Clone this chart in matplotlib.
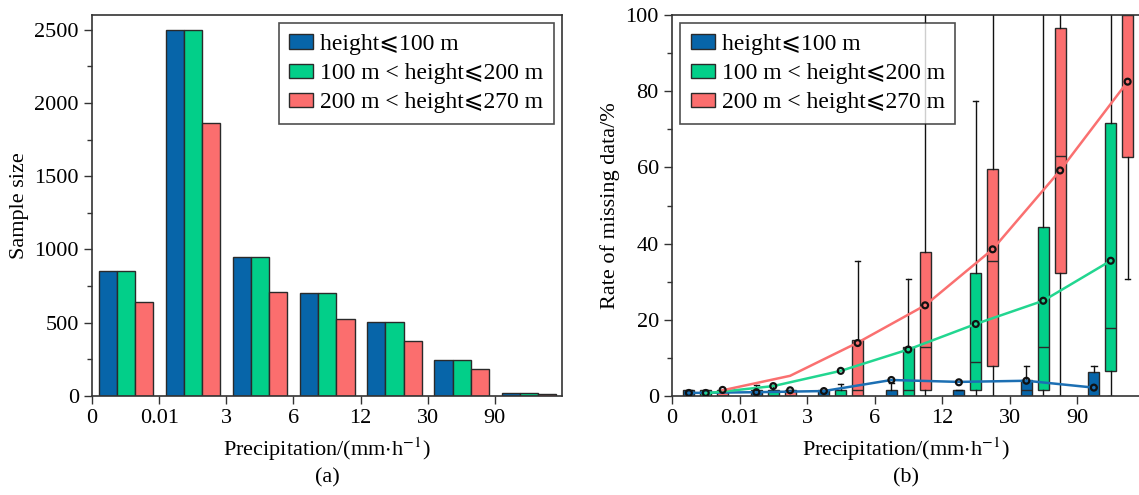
import matplotlib.pyplot as plt
from matplotlib.patches import Patch
import numpy as np

plt.rcParams['font.family'] = ['Liberation Serif', 'DejaVu Serif', 'DejaVu Sans']
plt.rcParams['mathtext.fontset'] = 'stix'

categories = ['0', '0.01', '3', '6', '12', '30', '90']
labels = ['height\u2a7d100 m', '100 m < height\u2a7d200 m', '200 m < height\u2a7d270 m']
colors = ['#0765a9', '#02cf89', '#fb6e6e']
line_colors = ['#1c6fb3', '#22d690', '#fa7070']

# (a) sample size per precipitation bin
n_low = [850, 2500, 948, 706, 503, 246, 20]
n_mid = [850, 2500, 948, 706, 503, 246, 20]
n_high = [640, 1865, 712, 526, 378, 184, 14]

# (b) box statistics: q1, median, q3, whisker low, whisker high, mean dot
low_q1 = [0, 0, 0, 0, 0, 0, 0]
low_med = [0, 0, 0, 0, 0, 1.6, 0]
low_q3 = [1.5, 1.5, 1.5, 1.7, 1.7, 4.2, 6.4]
low_wlo = [0, 0, 0, 0, 0, 0, 0]
low_whi = [1.5, 3.0, 1.5, 3.4, 1.7, 7.9, 7.9]
low_mean = [0.8, 1.0, 1.3, 4.2, 3.6, 4.0, 2.2]

mid_q1 = [0, 0, 0, 0, 1.7, 1.7, 6.6]
mid_med = [0, 0, 0, 1.7, 9.0, 12.9, 17.8]
mid_q3 = [1.5, 1.5, 1.7, 12.9, 32.3, 44.3, 71.6]
mid_wlo = [0, 0, 0, 0, 0, 0, 0]
mid_whi = [1.5, 3.0, 3.2, 30.7, 77.4, 110, 110]
mid_mean = [0.8, 2.6, 6.6, 12.2, 18.9, 25.0, 35.5]

high_q1 = [0, 0, 0, 1.7, 8.0, 32.3, 62.8]
high_med = [0, 0, 1.7, 12.8, 35.5, 63.0, 100]
high_q3 = [1.5, 1.5, 14.6, 37.8, 59.6, 96.7, 110]
high_wlo = [0, 0, 0, 0, 0, 0, 30.7]
high_whi = [1.5, 1.5, 35.5, 110, 110, 110, 110]
high_mean = [1.6, 1.5, 13.9, 23.8, 38.5, 59.2, 82.5]

# trend lines drawn through the groups
low_line = [0.8, 1.0, 1.3, 4.2, 3.7, 4.0, 2.2]
mid_line = [0.7, 2.6, 6.6, 12.2, 18.9, 25.0, 35.5]
high_line = [1.5, 5.3, 14.0, 23.8, 38.5, 59.2, 82.5]

fig = plt.figure(figsize=(11.39, 4.95), dpi=100)
ax1 = fig.add_axes([92 / 1139, 0.2, 470 / 1139, 381 / 495])
ax2 = fig.add_axes([672 / 1139, 0.2, 467 / 1139, 381 / 495])

x = np.arange(len(categories))
bw = 0.27
for j, (vals, c) in enumerate(zip([n_low, n_mid, n_high], colors)):
    ax1.bar(x + 0.1 + j * bw, vals, width=bw, align='edge', color=c,
            edgecolor='#2a2a2a', linewidth=1.0, zorder=2)
ax1.set_xlim(0, 7)
ax1.set_ylim(0, 2600)
ax1.set_yticks([0, 500, 1000, 1500, 2000, 2500])
ax1.set_yticks(np.arange(250, 2600, 500), minor=True)
ax1.set_ylabel('Sample size', fontsize=16)

groups = [
    (low_q1, low_med, low_q3, low_wlo, low_whi, low_mean, low_line),
    (mid_q1, mid_med, mid_q3, mid_wlo, mid_whi, mid_mean, mid_line),
    (high_q1, high_med, high_q3, high_wlo, high_whi, high_mean, high_line),
]
offsets = [0.25, 0.5, 0.75]
for k, (q1, med, q3, wlo, whi, mean, line) in enumerate(groups):
    stats = []
    for i in range(len(categories)):
        stats.append(dict(q1=q1[i], med=med[i], q3=q3[i], whislo=wlo[i],
                          whishi=whi[i], mean=mean[i], fliers=[]))
    pos = x + offsets[k]
    ax2.bxp(stats, positions=pos, widths=0.16, patch_artist=True,
            showmeans=False, manage_ticks=False,
            boxprops=dict(facecolor=colors[k], edgecolor='#2a2a2a', linewidth=1.0),
            medianprops=dict(color='#2a2a2a', linewidth=1.0),
            whiskerprops=dict(color='#111111', linewidth=1.0),
            capprops=dict(color='#111111', linewidth=1.0), zorder=2)
    ax2.plot(pos, line, color=line_colors[k], linewidth=1.8, zorder=3)
    ax2.scatter(pos, mean, s=18, facecolor='none', edgecolor='#111111',
                linewidth=1.6, zorder=4)

ax2.set_xlim(0, 467 / 67.5)
ax2.set_ylim(0, 100)
ax2.set_yticks([0, 20, 40, 60, 80, 100])
ax2.set_yticks(np.arange(10, 100, 20), minor=True)
ax2.set_ylabel('Rate of missing data/%', fontsize=16)
ax2.spines['right'].set_visible(False)

for ax, cap in [(ax1, '(a)'), (ax2, '(b)')]:
    ax.set_xticks(x)
    ax.set_xticklabels(categories)
    ax.set_xlabel('Precipitation/(mm$\\cdot$h$^{-1}$)', fontsize=16, labelpad=5)
    ax.tick_params(axis='both', which='major', direction='out', length=6,
                   width=1.0, labelsize=16, color='#333333')
    ax.tick_params(axis='y', which='minor', direction='out', length=3.5,
                   width=1.0, color='#333333')
    for s in ax.spines.values():
        s.set_color('#333333')
        s.set_linewidth(1.2)
    ax.text(0.5, -0.215, cap, transform=ax.transAxes, ha='center', va='center',
            fontsize=16)
    handles = [Patch(facecolor=c, edgecolor='#2a2a2a', label=l)
               for c, l in zip(colors, labels)]
    leg = ax.legend(handles=handles, loc='upper right' if ax is ax1 else 'upper left',
                    fontsize=17, frameon=True, fancybox=False, edgecolor='#222222',
                    handlelength=1.0, handleheight=0.55, handletextpad=0.3,
                    borderpad=0.45, labelspacing=0.35, borderaxespad=0.35)
    leg.get_frame().set_linewidth(1.2)
    leg.set_zorder(5)

fig.savefig('out.png', dpi=100)
